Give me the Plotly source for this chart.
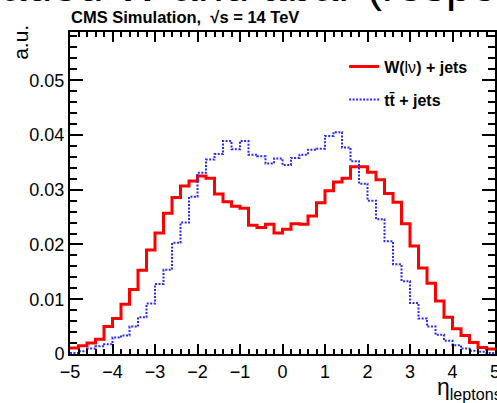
import plotly.graph_objects as go

# bin edges: 50 bins from -5 to 5
edges = [-5 + 0.2 * i for i in range(51)]

w_jets = [0.0011, 0.0015, 0.0020, 0.0027, 0.0050, 0.0065, 0.0091, 0.0118, 0.0153, 0.0190,
          0.0221, 0.0257, 0.0286, 0.0307, 0.0316, 0.0325, 0.0321, 0.0292, 0.0278, 0.0270,
          0.0266, 0.0235, 0.0231, 0.0237, 0.0221, 0.0228, 0.0238, 0.0237, 0.0252, 0.0276,
          0.0298, 0.0314, 0.0321, 0.0342, 0.0342, 0.0332, 0.0318, 0.0293, 0.0277, 0.0238,
          0.0197, 0.0157, 0.0129, 0.0097, 0.0067, 0.0046, 0.0034, 0.0021, 0.0012, 0.0009]

tt_jets = [0.0002, 0.0005, 0.0010, 0.0014, 0.0018, 0.0030, 0.0034, 0.0050, 0.0067, 0.0092,
           0.0128, 0.0154, 0.0203, 0.0240, 0.0287, 0.0331, 0.0355, 0.0365, 0.0389, 0.0374,
           0.0389, 0.0364, 0.0361, 0.0348, 0.0357, 0.0345, 0.0358, 0.0364, 0.0373, 0.0375,
           0.0398, 0.0405, 0.0377, 0.0352, 0.0311, 0.0280, 0.0246, 0.0206, 0.0164, 0.0133,
           0.0093, 0.0065, 0.0050, 0.0035, 0.0024, 0.0016, 0.0010, 0.0006, 0.0004, 0.0002]

x_ticks = [-5, -4, -3, -2, -1, 0, 1, 2, 3, 4, 5]
y_ticks = [0, 0.01, 0.02, 0.03, 0.04, 0.05]
y_tick_labels = ["0", "0.01", "0.02", "0.03", "0.04", "0.05"]

FONT = "Liberation Sans, Arial, Helvetica, sans-serif"

fig = go.Figure()
fig.add_trace(go.Scatter(
    x=edges, y=w_jets + [w_jets[-1]], mode="lines", line_shape="hv",
    line=dict(color="#ff0000", width=3),
    name="<b>W(</b>lν<b>) + jets</b>", legendgroup="a"))
fig.add_trace(go.Scatter(
    x=edges, y=tt_jets + [tt_jets[-1]], mode="lines", line_shape="hv",
    line=dict(color="#2a2aff", width=2, dash="2px,1.5px"),
    name="<b>tt̄ + jets</b>", legendgroup="b"))

axis_common = dict(
    showline=True, linecolor="black", linewidth=2, mirror="allticks",
    ticks="inside", tickcolor="black", tickwidth=2,
    showgrid=False, zeroline=False, ticklabeloverflow="allow", automargin=False,
    tickfont=dict(family=FONT, size=18, color="black"),
)

fig.update_xaxes(range=[-5, 5], tickvals=x_ticks, ticklen=10,
                 minor=dict(ticks="inside", dtick=0.2, ticklen=5, tickcolor="black", tickwidth=1.5),
                 **axis_common)
fig.update_yaxes(range=[0, 0.0588], tickvals=y_ticks, ticktext=y_tick_labels, ticklen=13,
                 minor=dict(ticks="inside", dtick=0.002, ticklen=7, tickcolor="black", tickwidth=1.5),
                 **axis_common)

fig.update_layout(
    width=497, height=403,
    margin=dict(l=70, r=2, t=32, b=49, autoexpand=False),
    paper_bgcolor="white", plot_bgcolor="white",
    showlegend=True,
    legend=dict(x=0.645, y=0.945, xanchor="left", yanchor="top",
                bgcolor="rgba(0,0,0,0)", tracegroupgap=9, traceorder="grouped",
                font=dict(family=FONT, size=16, color="black")),
    annotations=[
        dict(text="aded W and ttbar (respe", xref="paper", yref="paper",
             x=-0.166, y=1.0, xanchor="left", yanchor="bottom", yshift=19, showarrow=False,
             font=dict(family=FONT, size=46, color="black")),
        dict(text="<b>CMS Simulation,  √s = 14 TeV</b>", xref="paper", yref="paper",
             x=-0.002, y=1.0, xanchor="left", yanchor="bottom", yshift=4, showarrow=False,
             font=dict(family=FONT, size=16.5, color="black")),
        dict(text="a.u.", xref="paper", yref="paper", x=-0.117, y=1.006,
             xanchor="center", yanchor="top", textangle=-90, showarrow=False, yshift=7,
             font=dict(family=FONT, size=21, color="black")),
        dict(text="η<sub>leptons</sub>", xref="paper", yref="paper", x=1.02, y=-0.055,
             xanchor="right", yanchor="top", showarrow=False,
             font=dict(family=FONT, size=23, color="black")),
    ],
)

fig.write_html("out.html")
